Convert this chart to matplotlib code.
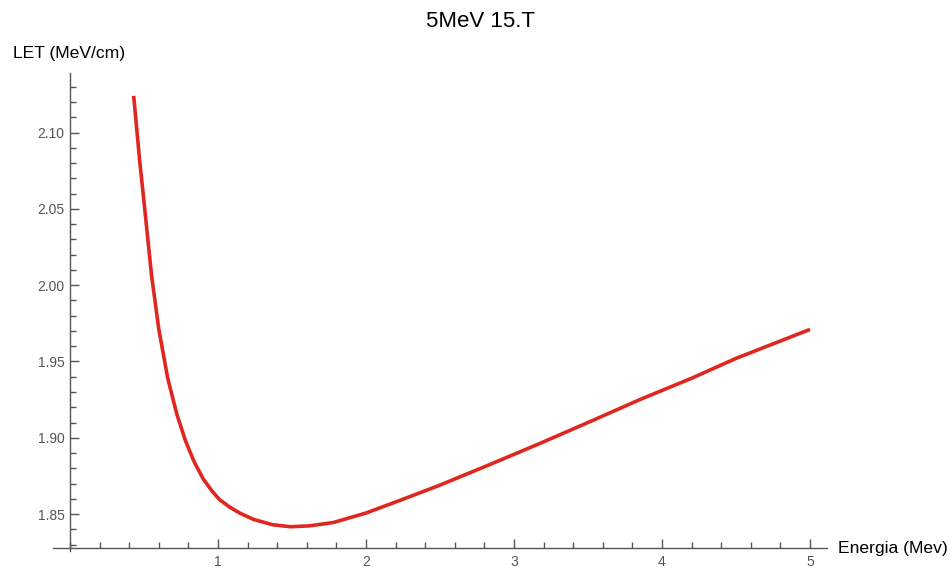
import matplotlib.pyplot as plt
from matplotlib.ticker import MultipleLocator

# valori
energia = [0.43, 0.47, 0.51, 0.55, 0.60, 0.66, 0.72, 0.78, 0.84, 0.90, 0.96, 1.01,
           1.08, 1.15, 1.24, 1.37, 1.49, 1.62, 1.78, 2.0, 2.23, 2.5, 2.85, 3.18,
           3.5, 3.85, 4.2, 4.5, 5.0]
let = [2.124, 2.082, 2.045, 2.007, 1.971, 1.939, 1.916, 1.898, 1.884, 1.873, 1.865, 1.8595,
       1.8545, 1.8505, 1.8465, 1.8430, 1.8417, 1.8423, 1.8445, 1.8507, 1.859, 1.869, 1.883, 1.8965,
       1.910, 1.925, 1.939, 1.952, 1.971]

x_ticks = [1, 2, 3, 4, 5]
y_ticks = [1.85, 1.90, 1.95, 2.00, 2.05, 2.10]

plt.rcParams['font.family'] = ['Liberation Sans', 'DejaVu Sans']

fig = plt.figure(figsize=(9.52, 5.68), dpi=100)
ax = fig.add_axes([0.0557, 0.0299, 0.813, 0.8416])

ax.plot(energia, let, color='#e0261f', lw=2.6, solid_capstyle='butt', solid_joinstyle='round')

ax.set_xlim(-0.115, 5.115)
ax.set_ylim(1.8258, 2.139)

# assi tipo Mathematica
for s in ['top', 'right']:
    ax.spines[s].set_visible(False)
ax.spines['left'].set_position(('data', 0))
ax.spines['bottom'].set_position(('data', 1.8278))
for s in ['left', 'bottom']:
    ax.spines[s].set_color('#555555')
    ax.spines[s].set_linewidth(1.0)

ax.set_xticks(x_ticks)
ax.set_xticklabels([str(t) for t in x_ticks])
ax.set_yticks(y_ticks)
ax.set_yticklabels(['%.2f' % t for t in y_ticks])
ax.xaxis.set_minor_locator(MultipleLocator(0.2))
ax.yaxis.set_minor_locator(MultipleLocator(0.01))

ax.tick_params(which='both', direction='in', colors='#555555', labelsize=10, width=1)
ax.tick_params(which='major', length=6.5)
ax.tick_params(which='minor', length=4)
ax.tick_params(axis='x', pad=5)
ax.tick_params(axis='y', pad=4)

fig.text(13 / 952, 1 - 58 / 568, 'LET (MeV/cm)', fontsize=12.6, ha='left', va='baseline')
fig.text(838 / 952, 1 - 549 / 568, 'Energia (Mev)', fontsize=12.6, ha='left', va='center')
fig.text(481 / 952, 1 - 27 / 568, '5MeV 15.T', fontsize=16, ha='center', va='baseline')

plt.savefig('out.png', dpi=100)
